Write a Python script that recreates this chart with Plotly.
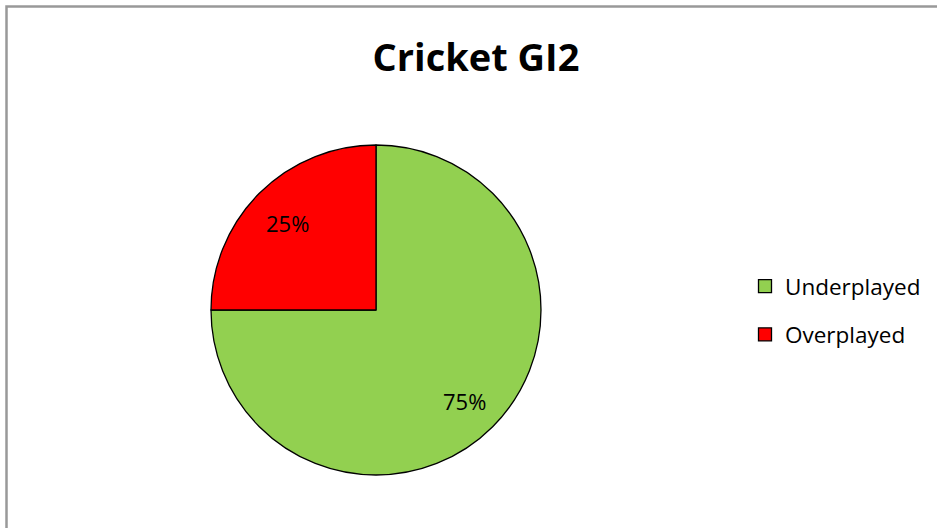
import math
import plotly.graph_objects as go

labels = ["Underplayed", "Overplayed"]
values = [75, 25]
colors = ["#92D050", "#FF0000"]
title = "Cricket GI2"

W, H = 937, 528
cx, cy, r = 376, 310, 165
FONT = "Open Sans"

fig = go.Figure()
fig.add_trace(go.Pie(
    labels=labels, values=values, sort=False, direction="clockwise", rotation=0,
    marker=dict(colors=colors, line=dict(color="black", width=1.3)),
    textinfo="none", hoverinfo="label+percent",
    domain=dict(x=[(cx - r) / W, (cx + r) / W], y=[(H - cy - r) / H, (H - cy + r) / H]),
    showlegend=False,
))

# percent labels placed along each slice's bisector
total = sum(values)
cum = 0
annotations = []
for lab, v in zip(labels, values):
    mid = (cum + v / 2) / total * 2 * math.pi  # clockwise from 12 o'clock
    cum += v
    rr = 0.76 * r
    px = cx + rr * math.sin(mid)
    py = cy - rr * math.cos(mid) + 2
    annotations.append(dict(x=px / W, y=1 - py / H, xref="paper", yref="paper",
                            text=f"{round(v / total * 100)}%", showarrow=False,
                            font=dict(family=FONT, size=22, color="black"),
                            xanchor="center", yanchor="middle"))

# legend entries
for lab, col in zip(labels, colors):
    fig.add_trace(go.Scatter(
        x=[None], y=[None], mode="markers", name=lab, legendgroup=lab,
        marker=dict(symbol="square", size=13, color=col, line=dict(color="black", width=1.3)),
        showlegend=True,
    ))

fig.update_layout(
    width=W, height=H, margin=dict(l=0, r=0, t=0, b=0),
    paper_bgcolor="white", plot_bgcolor="white",
    xaxis=dict(visible=False), yaxis=dict(visible=False),
    title=dict(text="<b>" + title + "</b>", x=476 / W, xanchor="center", y=1 - 58 / H, yanchor="middle",
               font=dict(family=FONT, size=38, color="black")),
    legend=dict(x=745 / W, y=1 - 265 / H, xanchor="left", yanchor="top",
                font=dict(family=FONT, size=22.5, color="black"), itemwidth=30,
                tracegroupgap=16, bgcolor="rgba(0,0,0,0)"),
    annotations=annotations,
    shapes=[dict(type="rect", xref="paper", yref="paper", x0=6.5 / W, x1=1.02, y0=-0.02, y1=1 - 6.5 / H,
                 line=dict(color="#999999", width=2.5), layer="below")],
)
fig.write_html("out.html", config={"displayModeBar": False},
               post_script="document.body.style.margin='0px';")
